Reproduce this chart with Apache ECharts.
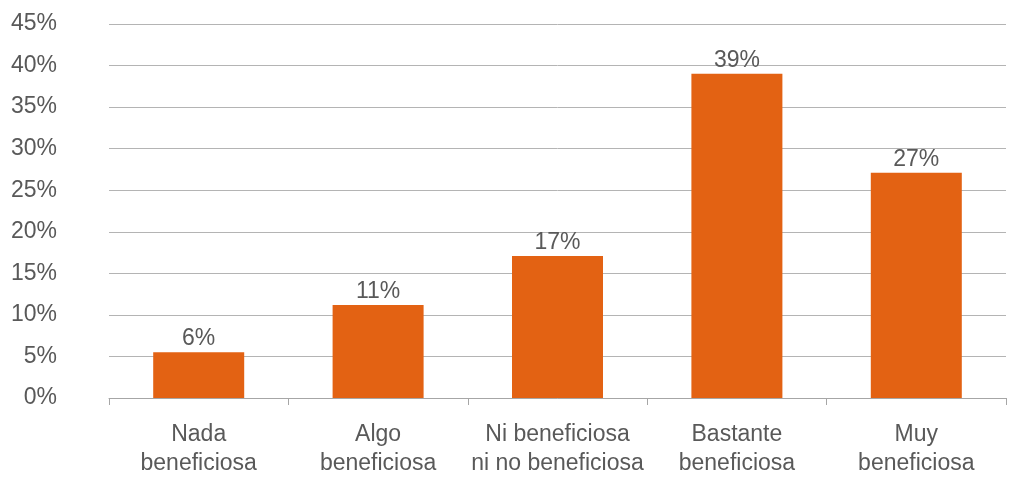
<!DOCTYPE html>
<html>
<head>
<meta charset="utf-8">
<script src="https://cdn.jsdelivr.net/npm/echarts@6/dist/echarts.min.js"></script>
<style>html,body{margin:0;padding:0;background:#fff;}#c{width:1017px;height:478px;}</style>
</head>
<body>
<div id="c"></div>
<script>
const categories = ['Nada\nbeneficiosa', 'Algo\nbeneficiosa', 'Ni beneficiosa\nni no beneficiosa', 'Bastante\nbeneficiosa', 'Muy\nbeneficiosa'];
const values = [5.5, 11.2, 17.1, 39.0, 27.1];
const yTicks = [0, 5, 10, 15, 20, 25, 30, 35, 40, 45];

const chart = echarts.init(document.getElementById('c'), null, {renderer: 'canvas'});
const font = 'Liberation Sans, Arial, sans-serif';
chart.setOption({
  animation: false,
  grid: {left: 109, right: 11, top: 24, bottom: 74},
  xAxis: {
    type: 'category',
    data: categories,
    axisLine: {show: true, lineStyle: {color: '#a6a6a6', width: 1}},
    axisTick: {show: true, length: 7, lineStyle: {color: '#a6a6a6'}},
    axisLabel: {color: '#595959', fontSize: 23, fontFamily: font, margin: 22, lineHeight: 29, interval: 0}
  },
  yAxis: {
    type: 'value',
    min: yTicks[0],
    max: yTicks[yTicks.length - 1],
    interval: 5,
    axisLine: {show: false},
    axisTick: {show: false},
    splitLine: {lineStyle: {color: '#b4b4b4', width: 1}},
    axisLabel: {color: '#595959', fontSize: 23, fontFamily: font, margin: 52, formatter: v => v + '%'}
  },
  series: [{
    type: 'bar',
    data: values,
    barWidth: 91,
    itemStyle: {color: '#E36213'},
    label: {
      show: true,
      position: 'top',
      distance: 2,
      color: '#595959',
      fontSize: 23,
      fontFamily: font,
      formatter: p => Math.round(p.value) + '%'
    }
  }]
});
</script>
</body>
</html>
